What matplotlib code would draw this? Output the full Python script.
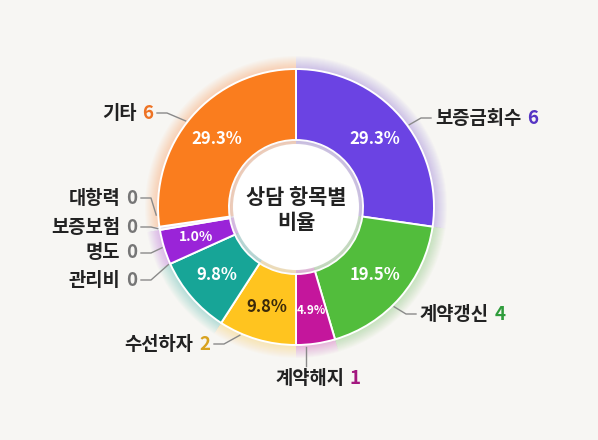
import numpy as np
import matplotlib.pyplot as plt
from matplotlib.patches import Wedge, Circle

plt.rcParams['font.family'] = ['Noto Sans CJK KR', 'DejaVu Sans']

# slices, clockwise from the top
slice_pct = [29.3, 19.5, 4.9, 9.8, 9.8, 4.4, 0.4, 29.3]
slice_text = ['29.3%', '19.5%', '4.9%', '9.8%', '9.8%', '1.0%', '', '29.3%']
slice_colors = ['#6b43e3', '#52bd3c', '#c4169c', '#ffc41f', '#17a597', '#9a24d8', '#e6dcf2', '#fa7d1e']
text_colors = ['white', 'white', 'white', '#3b2a0a', 'white', 'white', 'white', 'white']
text_sizes = [12, 12, 8.5, 12, 12, 10, 10, 12]

# callouts: name, count, count colour
names = ['보증금회수', '계약갱신', '계약해지', '수선하자', '관리비', '명도', '보증보험', '대항력', '기타']
counts = [6, 4, 1, 2, 0, 0, 0, 0, 6]
count_colors = ['#5634c4', '#2f9c3b', '#a3187f', '#d8a21f', '#767676', '#767676', '#767676', '#767676', '#ee7324']
# which slice each leader points to and where inside it (0 start .. 1 end, clockwise)
anchor_slice = [0, 1, 2, 3, 4, 5, 6, 7, 7]
anchor_frac = [0.55, 0.57, 0.75, 0.72, 1.0, 0.5, 0.5, 0.05, 0.47]
# text position in image pixels, side
label_pos = [(435, 118), (420, 314), (275, 378), (210, 344), (137, 280),
             (137, 253), (137, 227), (137, 198), (153, 113)]
label_side = ['left', 'left', 'left', 'right', 'right', 'right', 'right', 'right', 'right']

W, H = 598, 440
cx, cy = 296, H - 207
r_out, r_in = 138, 67

fig = plt.figure(figsize=(5.98, 4.4), dpi=100)
fig.patch.set_facecolor('#f7f6f3')
ax = fig.add_axes([0, 0, 1, 1])
ax.set_facecolor('#f7f6f3')

wedges, _ = ax.pie(slice_pct, colors=slice_colors, startangle=90, counterclock=False,
                   radius=r_out, center=(cx, cy),
                   wedgeprops=dict(width=r_out - r_in, edgecolor='white', linewidth=1.4))
ax.set_xlim(0, W)
ax.set_ylim(0, H)
ax.set_aspect('equal')
ax.axis('off')

# soft glow around the ring
for w in wedges:
    for k in range(1, 14):
        ax.add_patch(Wedge((cx, cy), r_out + k, w.theta1, w.theta2, width=r_out - r_in + 2 * k,
                           facecolor=w.get_facecolor(), edgecolor='none', alpha=0.025, zorder=0.5))

# hole
for k in range(1, 6):
    ax.add_patch(Circle((cx, cy), r_in - k, facecolor='none', edgecolor='#5a4a80',
                        lw=1.2, alpha=0.04, zorder=2.5))
ax.add_patch(Circle((cx, cy), r_in - 4, facecolor='white', edgecolor='none', zorder=3))
ax.text(cx, cy - 3, '상담 항목별\n비율', ha='center', va='center', fontsize=15,
        fontweight='bold', color='#222222', linespacing=1.25, zorder=4)

# percentages
for w, t, c, s in zip(wedges, slice_text, text_colors, text_sizes):
    if not t:
        continue
    a = np.radians((w.theta1 + w.theta2) / 2)
    rr = (r_out + r_in) / 2 + 2
    ax.text(cx + rr * np.cos(a), cy + rr * np.sin(a), t, ha='center', va='center',
            fontsize=s, fontweight='bold', color=c, zorder=4)

# callouts
for name, cnt, cc, si, fr, (tx, ty), side in zip(names, counts, count_colors, anchor_slice,
                                                    anchor_frac, label_pos, label_side):
    w = wedges[si]
    a = np.radians(w.theta2 + fr * (w.theta1 - w.theta2))
    px, py = cx + (r_out + 2) * np.cos(a), cy + (r_out + 2) * np.sin(a)
    yy = H - ty
    if name == '계약해지':
        ax.plot([px, px], [py, yy + 12], color='#8a8a8a', lw=1, zorder=2)
    elif side == 'left':
        ax.plot([px, tx - 14, tx - 4], [py, yy, yy], color='#8a8a8a', lw=1, zorder=2)
    else:
        ax.plot([px, tx + 14, tx + 4], [py, yy, yy], color='#8a8a8a', lw=1, zorder=2)

    if side == 'left':
        t0 = ax.text(tx, yy, name, ha='left', va='center', fontsize=13.5,
                     fontweight='bold', color='#222222')
        ax.annotate(str(cnt), xy=(1, 0), xycoords=t0, xytext=(4, 0), textcoords='offset points',
                    ha='left', va='bottom', fontsize=13.5, fontweight='bold', color=cc)
    else:
        t1 = ax.text(tx, yy, str(cnt), ha='right', va='center', fontsize=13.5,
                     fontweight='bold', color=cc)
        ax.annotate(name, xy=(0, 0), xycoords=t1, xytext=(-4, 0), textcoords='offset points',
                    ha='right', va='bottom', fontsize=13.5, fontweight='bold', color='#222222')

fig.savefig('out.png', dpi=100, facecolor=fig.get_facecolor())
